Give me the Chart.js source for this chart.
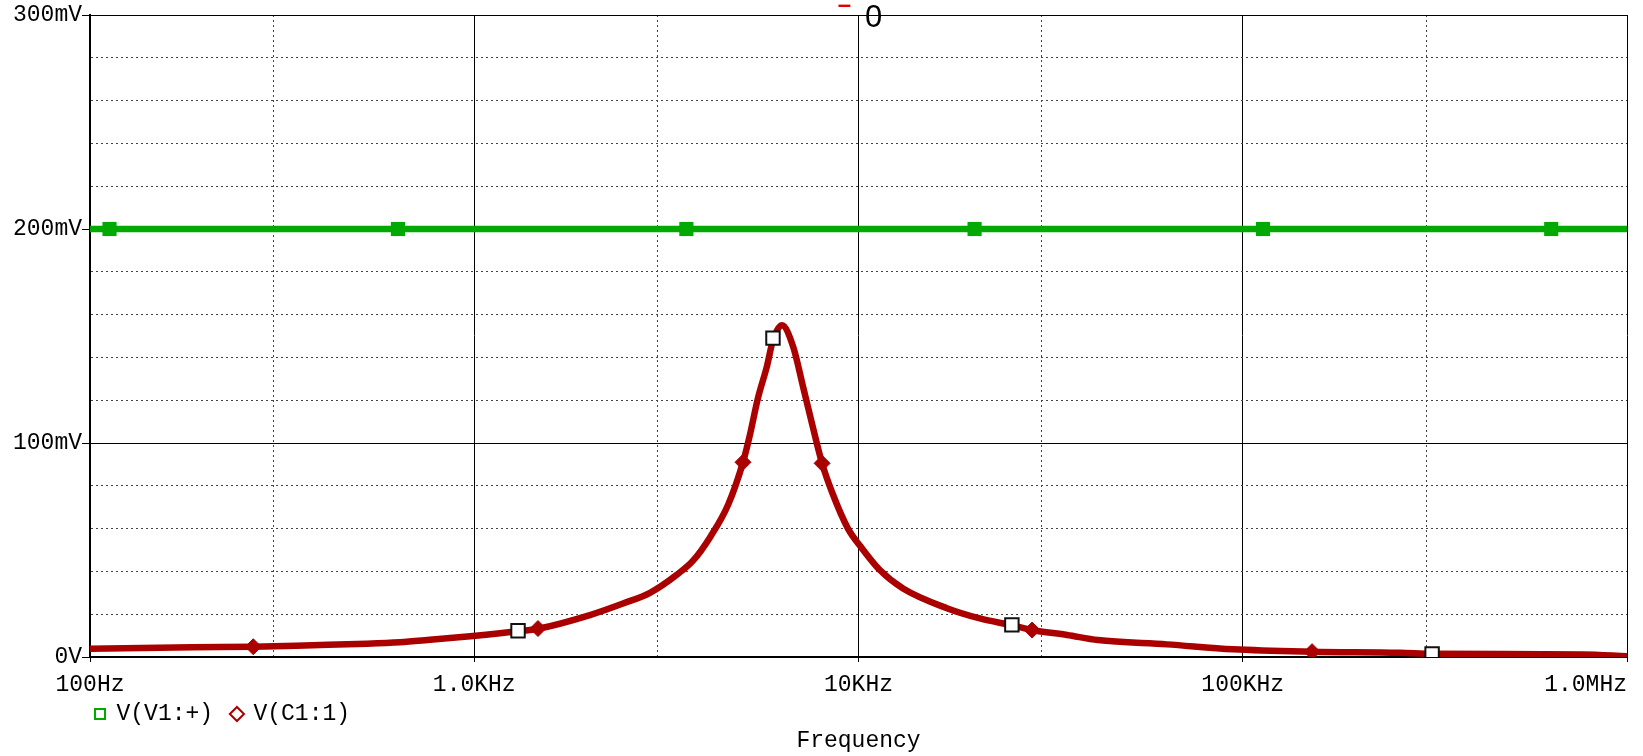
<!DOCTYPE html>
<html>
<head>
<meta charset="utf-8">
<script src="https://cdn.jsdelivr.net/npm/chart.js"></script>
<style>
  html, body { margin: 0; padding: 0; background: #fff; }
  #wrap { width: 1643px; height: 756px; }
</style>
</head>
<body>
<div id="wrap"><canvas id="plot" width="1643" height="756"></canvas></div>
<script>
// ---- data ----
const decadeTicks = [100, 1000, 10000, 100000, 1000000];
const decadeLabels = ['100Hz', '1.0KHz', '10KHz', '100KHz', '1.0MHz'];
const minorXTicks = [300, 3000, 30000, 300000];
const yLabelValues = [0, 100, 200, 300];
const yLabelText = ['0V', '100mV', '200mV', '300mV'];
const legendNames = ['V(V1:+)', 'V(C1:1)'];

// V(V1:+) trace (mV)
const v1Freq = [100, 1000000];
const v1Values = [200, 200];
const v1MarkFreq = [112.4, 633, 3565, 20050, 112900, 635000];
const v1MarkValues = [200, 200, 200, 200, 200, 200];

// V(C1:1) trace (mV)
const c1Freq = [100, 185, 266, 380, 526, 641, 754, 993, 1300, 1465, 2000, 2438, 2866, 3370, 3710,
  4110, 4575, 5005, 5220, 5475, 5780, 5990, 6320, 6760, 7180, 7570, 8040, 8535, 9390, 10090,
  11380, 13060, 16990, 20700, 25070, 28300, 34900, 41980, 63500, 94400, 151500, 256600, 311000,
  769000, 1000000];
const c1Values = [3.8, 4.6, 4.8, 5.5, 6.2, 6.9, 7.9, 9.8, 12.0, 13.2, 19.6, 25, 30, 38.5, 45,
  56, 71, 91, 104, 121, 136, 148, 155, 145, 126, 109, 90.5, 77, 60, 52,
  40.5, 32, 22.8, 18, 14.8, 12.6, 10.3, 7.9, 5.9, 3.6, 2.5, 2.0, 1.5,
  1.2, 0.4];
const c1DiamondFreq = [266, 1465, 5005, 8040, 28300, 151500];
const c1DiamondValues = [4.8, 13.3, 91, 90.5, 12.6, 2.5];
const c1SquareFreq = [1300, 5990, 25070, 311000];
const c1SquareValues = [12.3, 149, 15, 1.4];

const GREEN = '#00aa00';
const RED = '#aa0000';
const FONT = { family: 'Liberation Mono', size: 23, lineHeight: 1 };

const pts = (xs, ys) => xs.map((x, i) => ({ x: x, y: ys[i] }));
const isDecade = v => decadeTicks.indexOf(v) >= 0;
const isMajorY = v => yLabelValues.indexOf(v) >= 0;

// the "-0" marker at the top of the plot
const topMark = {
  id: 'topMark',
  afterDraw(chart) {
    const ctx = chart.ctx, a = chart.chartArea;
    const cx = (a.left + a.right) / 2;
    ctx.save();
    ctx.textAlign = 'center';
    ctx.textBaseline = 'alphabetic';
    ctx.fillStyle = '#000';
    ctx.font = '31px "Liberation Sans"';
    ctx.fillText('0', cx + 15, 27);
    ctx.fillStyle = '#e00000';
    ctx.font = 'bold 24px "Liberation Sans"';
    ctx.fillText('\u2013', cx - 14, 12);
    ctx.restore();
  }
};

new Chart(document.getElementById('plot'), {
  type: 'line',
  data: {
    datasets: [
      { data: pts(c1SquareFreq, c1SquareValues), showLine: false, pointStyle: 'rect', pointRadius: 9.5,
        pointBackgroundColor: '#fff', pointBorderColor: '#111', pointBorderWidth: 2 },
      { data: pts(c1DiamondFreq, c1DiamondValues), showLine: false, pointStyle: 'rectRot', pointRadius: 8,
        pointBackgroundColor: RED, pointBorderColor: RED, pointBorderWidth: 1 },
      { data: pts(v1MarkFreq, v1MarkValues), showLine: false, pointStyle: 'rect', pointRadius: 10,
        pointBackgroundColor: GREEN, pointBorderColor: GREEN, pointBorderWidth: 0 },
      { label: legendNames[1], data: pts(c1Freq, c1Values), borderColor: RED, borderWidth: 6.5,
        pointRadius: 0, cubicInterpolationMode: 'monotone' },
      { label: legendNames[0], data: pts(v1Freq, v1Values), borderColor: GREEN, borderWidth: 6.5,
        pointRadius: 0 }
    ]
  },
  options: {
    responsive: false,
    devicePixelRatio: 1,
    animation: false,
    events: [],
    layout: { padding: { top: 15, right: 16, left: 0, bottom: 0 } },
    scales: {
      x: {
        type: 'logarithmic', min: 100, max: 1000000,
        afterBuildTicks: s => { s.ticks = decadeTicks.concat(minorXTicks).sort((a, b) => a - b).map(v => ({ value: v })); },
        afterFit: s => { s.height = 40.5; s.paddingLeft = 0; s.paddingRight = 0; },
        ticks: {
          autoSkip: false, maxRotation: 0, padding: 11.5, color: '#000', font: FONT,
          callback: v => {
            const i = decadeTicks.indexOf(v);
            if (i < 0) return '';
            return i === decadeTicks.length - 1 ? decadeLabels[i] + '      ' : decadeLabels[i];
          }
        },
        grid: {
          lineWidth: 1, tickLength: 5,
          color: c => (c.tick && isDecade(c.tick.value)) ? '#000' : '#444',
          tickColor: c => (c.tick && isDecade(c.tick.value)) ? '#000' : 'rgba(0,0,0,0)'
        },
        border: { color: '#000', width: 2, dash: c => (c.tick && !isDecade(c.tick.value)) ? [2, 3] : [] }
      },
      y: {
        min: 0, max: 300,
        afterFit: s => { s.width = 90; s.paddingTop = 0; s.paddingBottom = 0; },
        ticks: {
          stepSize: 20, autoSkip: false, padding: 0, color: '#000', font: FONT,
          callback: v => { const i = yLabelValues.indexOf(v); return i < 0 ? '' : yLabelText[i]; }
        },
        grid: {
          lineWidth: 1, tickLength: 8,
          color: c => (c.tick && isMajorY(c.tick.value)) ? '#000' : '#444',
          tickColor: c => (c.tick && isMajorY(c.tick.value)) ? '#000' : 'rgba(0,0,0,0)'
        },
        border: { color: '#000', width: 2, dash: c => (c.tick && !isMajorY(c.tick.value)) ? [2, 3] : [] }
      }
    },
    plugins: {
      tooltip: { enabled: false },
      legend: {
        position: 'bottom', align: 'start', fullSize: false,
        labels: {
          usePointStyle: true, boxWidth: 10, boxHeight: 10, padding: 5, color: '#000', font: FONT,
          generateLabels: () => [
            { text: legendNames[0] + ' ', fillStyle: 'rgba(0,0,0,0)', strokeStyle: GREEN, lineWidth: 2,
              pointStyle: 'rect', fontColor: '#000', hidden: false },
            { text: legendNames[1], fillStyle: 'rgba(0,0,0,0)', strokeStyle: RED, lineWidth: 2,
              pointStyle: 'rectRot', fontColor: '#000', hidden: false }
          ]
        }
      },
      title: {
        display: true, text: 'Frequency', position: 'bottom', fullSize: false, color: '#000',
        font: { family: 'Liberation Mono', size: 23, weight: 'normal', lineHeight: 0.5 },
        padding: { top: 0, bottom: 9 }
      }
    }
  },
  plugins: [topMark]
});
</script>
</body>
</html>
